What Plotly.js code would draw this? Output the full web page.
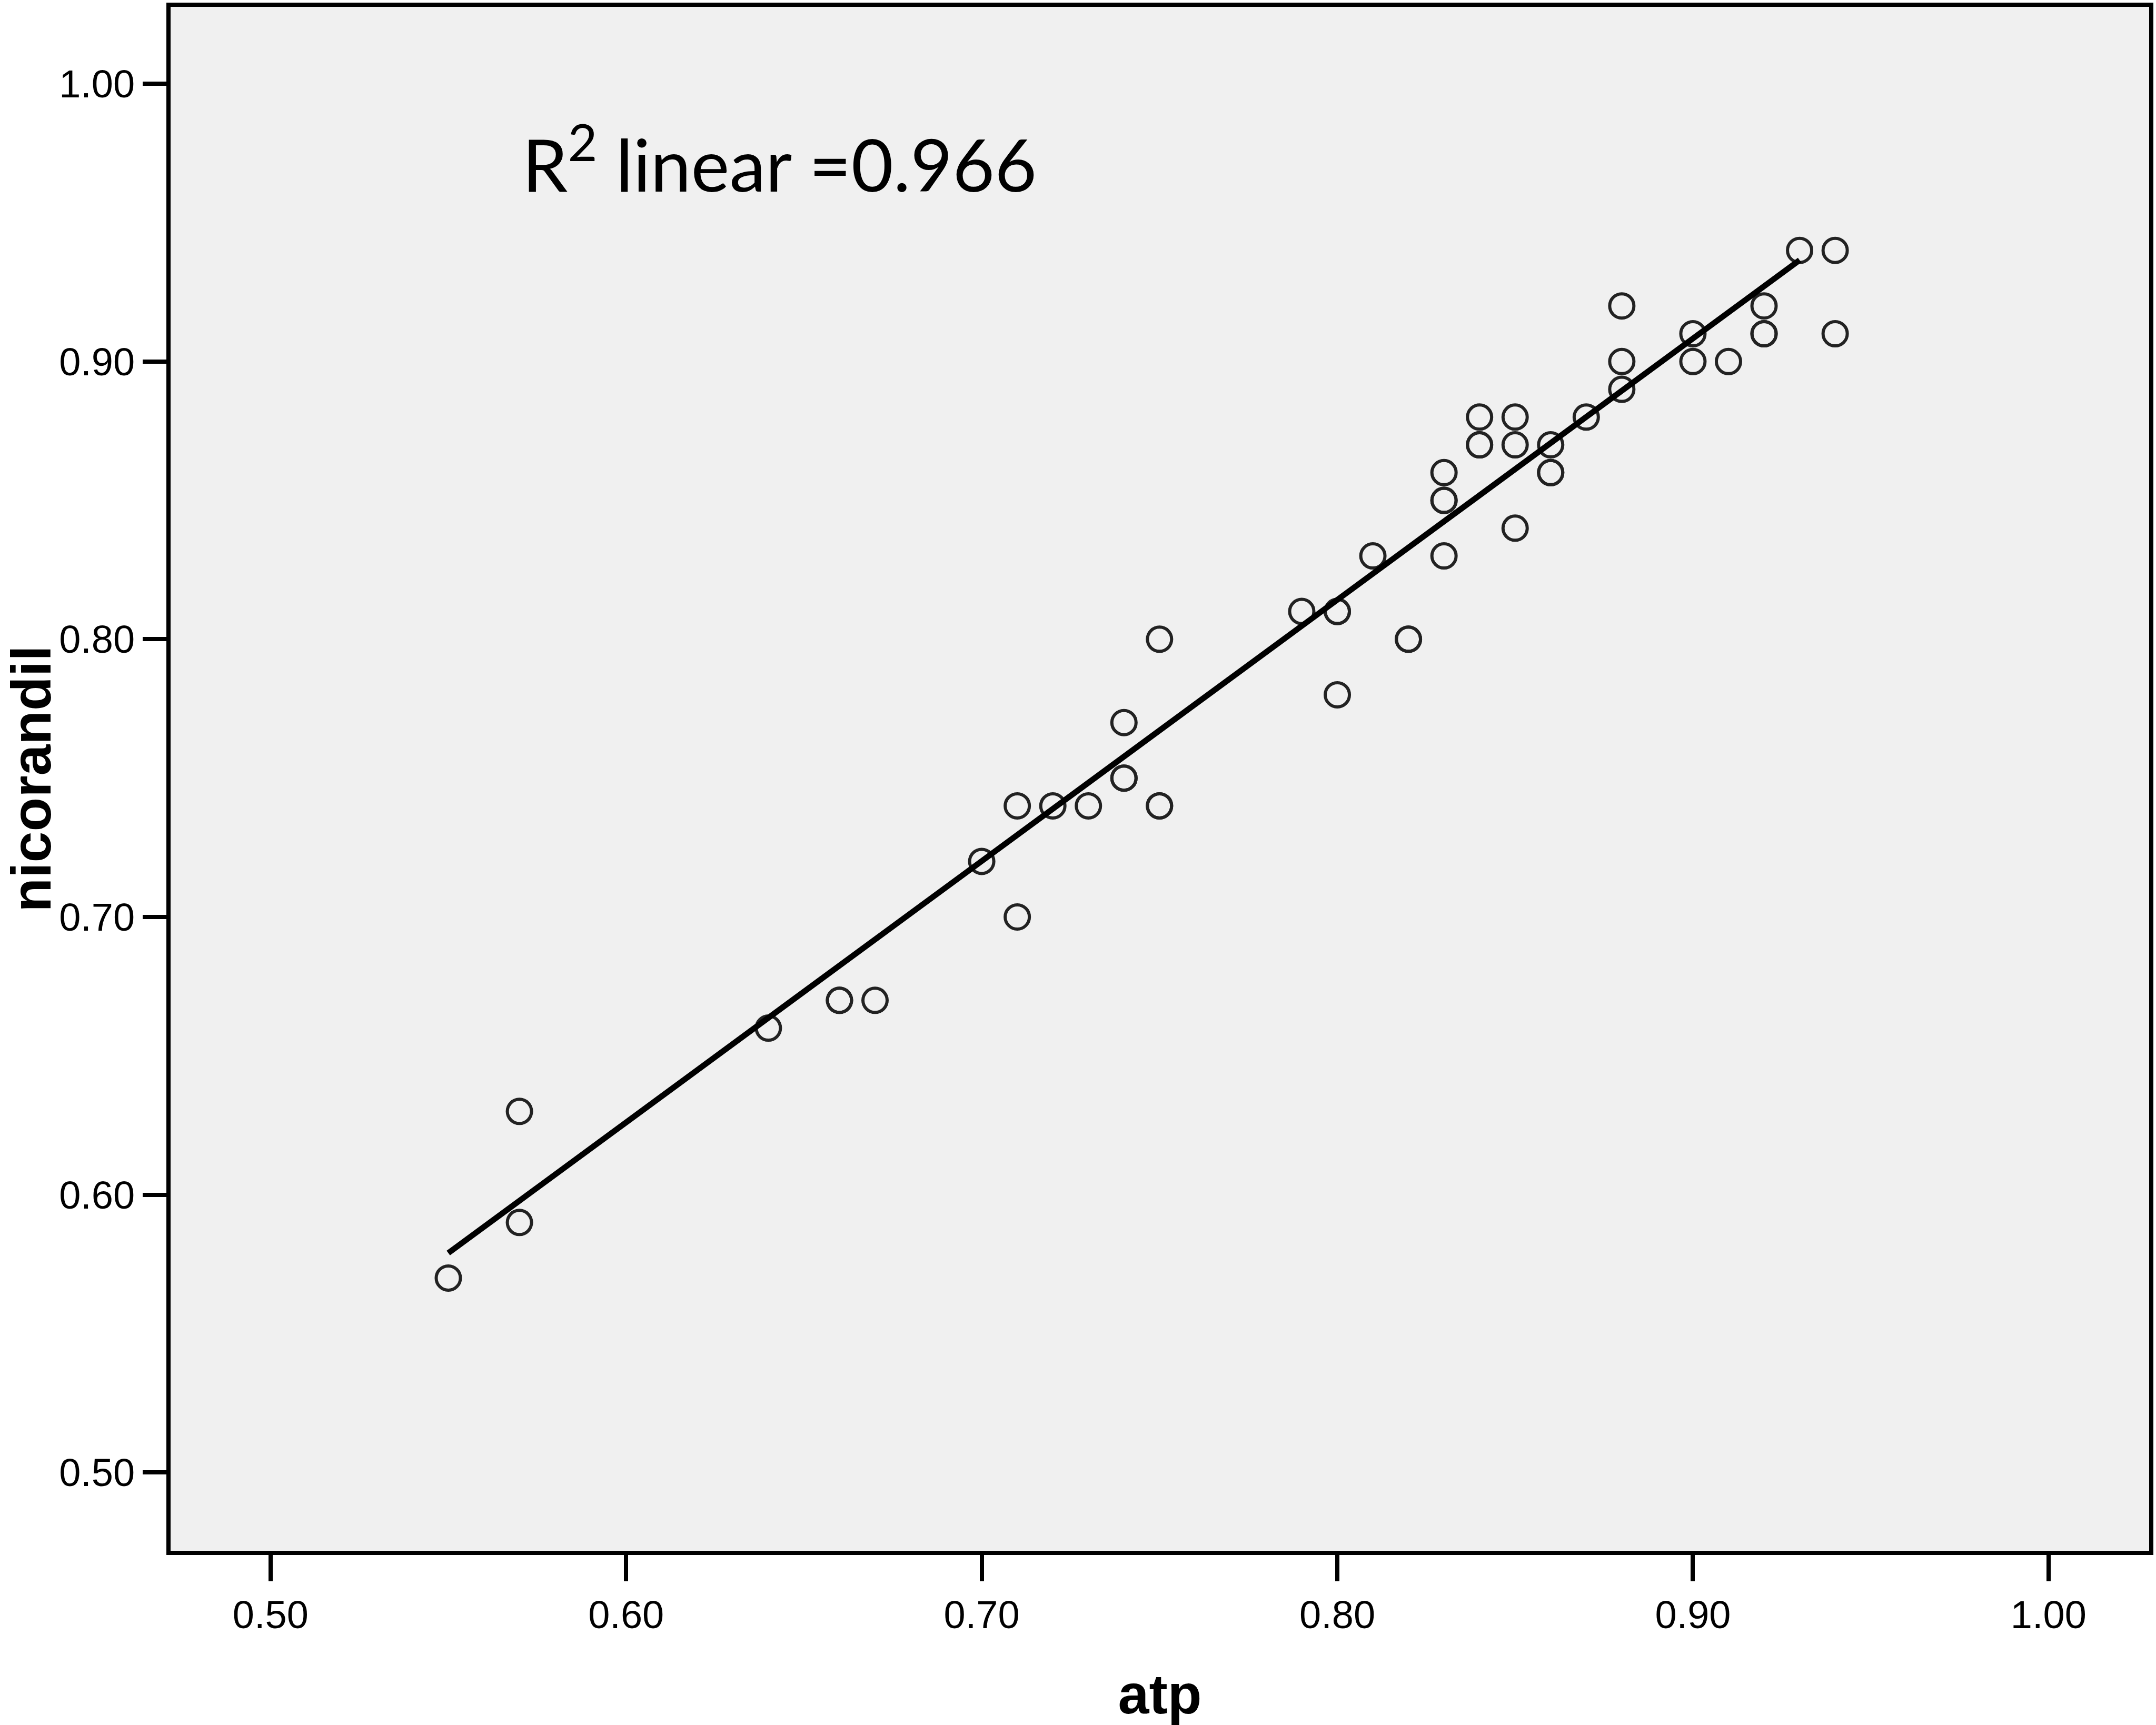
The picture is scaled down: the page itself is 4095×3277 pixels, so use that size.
<!DOCTYPE html>
<html>
<head>
<meta charset="utf-8">
<script src="https://cdn.plot.ly/plotly-3.0.1.min.js"></script>
<style>html,body{margin:0;padding:0;background:#fff;}#chart{width:4095px;height:3277px;}</style>
</head>
<body>
<div id="chart"></div>
<script>
// Observations (atp, nicorandil); repeated pairs are overlapping points
const atp = [
  0.55, 0.57, 0.57, 0.64, 0.66, 0.66, 0.67, 0.70, 0.71, 0.71,
  0.72, 0.73, 0.74, 0.74, 0.74, 0.75, 0.75, 0.75, 0.79, 0.80,
  0.80, 0.80, 0.81, 0.82, 0.82, 0.83, 0.83, 0.83, 0.83, 0.84,
  0.84, 0.84, 0.85, 0.85, 0.85, 0.86, 0.86, 0.86, 0.87, 0.88,
  0.88, 0.88, 0.90, 0.90, 0.91, 0.92, 0.92, 0.92, 0.93, 0.94,
  0.94
];
const nicorandil = [
  0.57, 0.63, 0.59, 0.66, 0.67, 0.67, 0.67, 0.72, 0.74, 0.70,
  0.74, 0.74, 0.77, 0.75, 0.75, 0.80, 0.74, 0.74, 0.81, 0.81,
  0.81, 0.78, 0.83, 0.80, 0.80, 0.86, 0.85, 0.85, 0.83, 0.88,
  0.87, 0.87, 0.88, 0.87, 0.84, 0.87, 0.86, 0.86, 0.88, 0.92,
  0.90, 0.89, 0.91, 0.90, 0.90, 0.92, 0.91, 0.91, 0.94, 0.94,
  0.91
];
// Fit line as drawn in the reference
const fitX = [0.55, 0.93];
const fitY = [0.579, 0.9365];
const r2Text = 'R<sup>2</sup> linear =0.966';

const xTickVals = [0.5, 0.6, 0.7, 0.8, 0.9, 1.0];
const xTickText = ['0.50', '0.60', '0.70', '0.80', '0.90', '1.00'];
const yTickVals = [0.5, 0.6, 0.7, 0.8, 0.9, 1.0];
const yTickText = ['0.50', '0.60', '0.70', '0.80', '0.90', '1.00'];

const tickFont = {family: 'Liberation Sans, Arial, sans-serif', size: 74, color: '#000'};
const titleFont = {family: 'Liberation Sans, Arial, sans-serif', size: 106, color: '#000', weight: 'bold'};

const traces = [
  {
    type: 'scatter', mode: 'markers', x: atp, y: nicorandil,
    marker: {symbol: 'circle-open', size: 46, color: '#222222', line: {width: 6, color: '#222222'}},
    showlegend: false, hoverinfo: 'x+y'
  },
  {
    type: 'scatter', mode: 'lines', x: fitX, y: fitY,
    line: {color: '#000', width: 11},
    showlegend: false, hoverinfo: 'skip'
  }
];

const axisCommon = {
  showgrid: false, zeroline: false,
  showline: true, linecolor: '#000', linewidth: 8, mirror: true,
  ticks: 'outside', tickcolor: '#000', tickwidth: 8,
  tickfont: tickFont, automargin: false
};

const layout = {
  width: 4095, height: 3277,
  margin: {l: 324, r: 13, t: 13, b: 331},
  paper_bgcolor: '#ffffff',
  plot_bgcolor: '#f0f0f0',
  showlegend: false,
  xaxis: Object.assign({}, axisCommon, {
    range: [0.4719, 1.0283],
    tickmode: 'array', tickvals: xTickVals, ticktext: xTickText,
    ticklen: 50,
    title: {text: 'atp', font: titleFont, standoff: 76}
  }),
  yaxis: Object.assign({}, axisCommon, {
    range: [0.4718, 1.0277],
    tickmode: 'array', tickvals: yTickVals, ticktext: yTickText,
    ticklen: 45,
    title: {text: 'nicorandil', font: titleFont, standoff: 40}
  }),
  annotations: [{
    x: 0.5705, y: 0.9730, xref: 'x', yref: 'y',
    xanchor: 'left', yanchor: 'middle',
    text: r2Text, showarrow: false,
    font: {family: 'Lato, Open Sans, sans-serif', size: 138, color: '#000'}
  }]
};

Plotly.newPlot('chart', traces, layout, {staticPlot: true, displayModeBar: false});
</script>
</body>
</html>
